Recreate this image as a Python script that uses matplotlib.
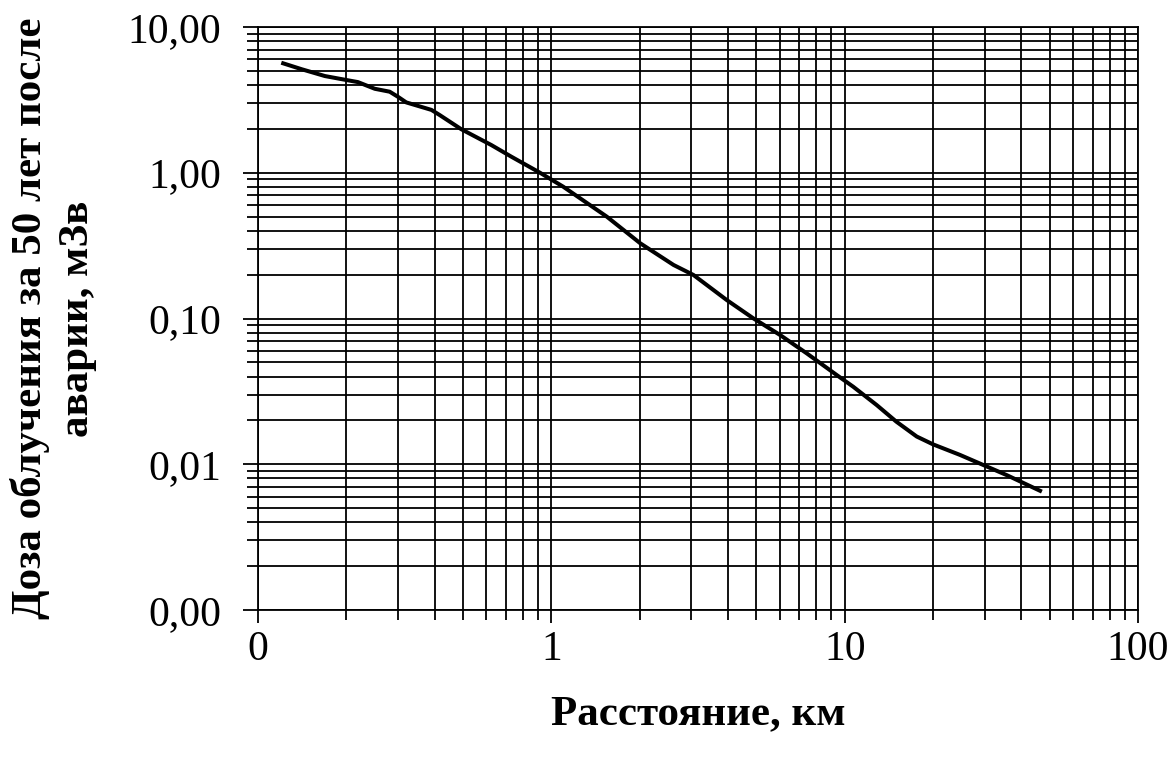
import matplotlib.pyplot as plt
from matplotlib.ticker import FixedLocator, LogLocator, NullFormatter

plt.rcParams['font.family'] = ['Liberation Serif', 'DejaVu Serif']

# расстояние, км и доза облучения, мЗв
distance = [0.120, 0.141, 0.169, 0.200, 0.219, 0.250, 0.281, 0.300, 0.320,
            0.390, 0.416, 0.493, 0.624, 0.730, 0.915, 1.098, 1.545, 2.01,
            2.61, 3.05, 3.96, 4.88, 6.02, 7.42, 9.40, 10.7, 12.85, 15.0,
            17.6, 20.0, 24.7, 35.6, 47.0]
dose = [5.69, 5.13, 4.61, 4.33, 4.19, 3.77, 3.60, 3.32, 3.04,
        2.70, 2.49, 1.99, 1.55, 1.29, 1.00, 0.802, 0.50, 0.328,
        0.233, 0.199, 0.134, 0.1003, 0.0771, 0.0577, 0.0409, 0.034, 0.0255, 0.0196,
        0.0155, 0.0137, 0.0116, 0.00844, 0.00649]

x_ticks = [0.1, 1, 10, 100]
x_labels = ['0', '1', '10', '100']
y_ticks = [0.001, 0.01, 0.1, 1, 10]
y_labels = ['0,00', '0,01', '0,10', '1,00', '10,00']

fig = plt.figure(figsize=(11.73, 7.68), dpi=100)
ax = fig.add_axes([0.22, 0.2057, 0.7502, 0.7591])

ax.plot(distance, dose, color='black', lw=2.9, solid_capstyle='butt',
        solid_joinstyle='round', zorder=3)

ax.set_xscale('log')
ax.set_yscale('log')
ax.set_xlim(0.1, 100)
ax.set_ylim(0.001, 10)

ax.xaxis.set_major_locator(FixedLocator(x_ticks))
ax.set_xticklabels(x_labels)
ax.yaxis.set_major_locator(FixedLocator(y_ticks))
ax.set_yticklabels(y_labels)
for axis in (ax.xaxis, ax.yaxis):
    axis.set_minor_locator(LogLocator(base=10, subs=range(2, 10), numticks=20))
    axis.set_minor_formatter(NullFormatter())

ax.grid(True, which='both', color='black', lw=1.3)
ax.set_axisbelow(True)
for s in ax.spines.values():
    s.set_linewidth(1.3)

ax.tick_params(axis='y', which='major', direction='out', length=10.5, width=1.3,
               pad=16, labelsize=30)
ax.tick_params(axis='y', which='minor', direction='out', length=8, width=1.3)
ax.tick_params(axis='x', which='major', direction='out', length=9.5, width=1.3,
               pad=5, labelsize=30)
ax.tick_params(axis='x', which='minor', direction='out', length=7, width=1.3)

ax.set_xlabel('Расстояние, км', fontsize=31, fontweight='bold', labelpad=19)
ax.set_ylabel('Доза облучения за 50 лет после\nаварии, мЗв', fontsize=31,
              fontweight='bold', labelpad=22, linespacing=1.3)

fig.savefig('out.png', dpi=100)
